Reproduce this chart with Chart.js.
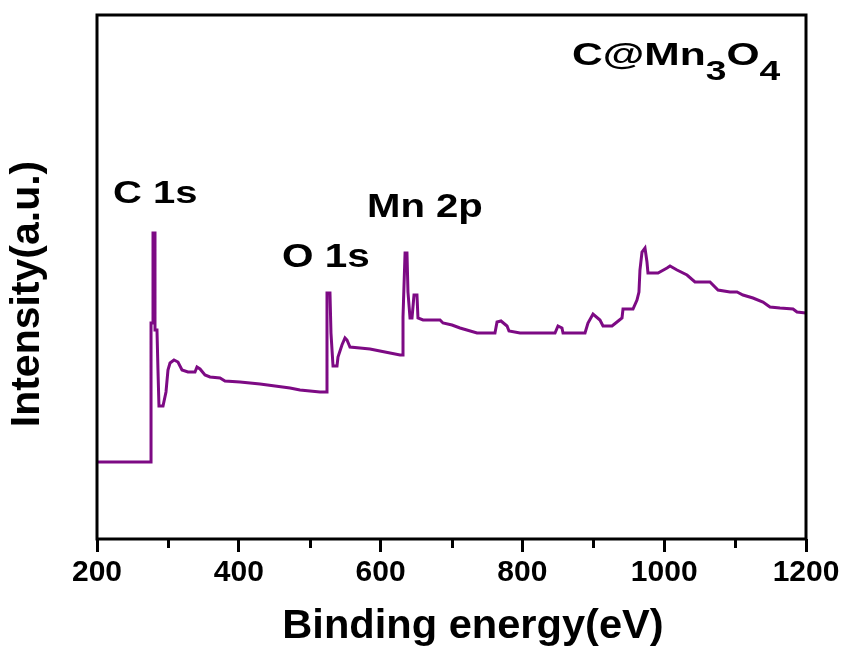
<!DOCTYPE html>
<html>
<head>
<meta charset="utf-8">
<script src="https://cdn.jsdelivr.net/npm/chart.js@4.4.1/dist/chart.umd.min.js"></script>
<style>
  html, body { margin: 0; padding: 0; background: #fff; }
  #wrap { width: 847px; height: 655px; }
</style>
</head>
<body>
<div id="wrap"><canvas id="xps"></canvas></div>
<script>
// XPS survey spectrum of C@Mn3O4: binding energy (eV) vs. intensity (a.u.)
const energy = [
  200, 276.2, 276.2, 279, 279, 281.8, 281.8, 284.6, 286, 287.4,
  293.1, 297.3, 300.1, 303, 308.6, 314.2, 319.9, 328.3, 338.2, 341,
  345.3, 352.3, 359.4, 373.5, 380.5, 401.7, 415.8, 429.9, 451.1, 472.2,
  486.3, 500.4, 514.5, 524.4, 524.4, 528.6, 530, 532.9, 538.5, 539.9,
  545.5, 549.8, 552.6, 556.8, 570.9, 585, 599.1, 613.3, 627.4, 631.6,
  631.6, 634.5, 637.2, 638.6, 641.5, 644.3, 647.1, 651.3, 652.7, 659.8,
  683.8, 688, 700.7, 712, 736, 761.3, 764.2, 769.8, 778.3, 781.1,
  796.6, 846, 850.2, 855.8, 857.3, 888.3, 892.5, 899.6, 909.4, 913.7,
  926.4, 933.4, 940.5, 941.9, 956, 961.6, 964.4, 965.8, 968.7, 972.9,
  975.7, 977.1, 991.3, 1004, 1008.2, 1018.1, 1032.2, 1043.4, 1064.6, 1075.9,
  1092.8, 1102.7, 1111.1, 1125.2, 1139.3, 1149.2, 1163.3, 1181.7, 1187.3, 1200
];
const intensity = [
  77, 77, 216, 216, 306, 306, 209, 209, 169, 133,
  133, 147, 169, 176, 179, 177, 169, 167, 167, 172,
  170, 164, 162, 161, 158, 157, 156, 155, 153, 151,
  149, 148, 147, 147, 246, 246, 206, 173, 173, 182,
  194, 201, 199, 192, 191, 190, 188, 186, 184, 184,
  222, 286, 286, 247, 221, 221, 244, 244, 221, 219,
  219, 216, 214, 211, 206, 206, 217, 218, 213, 208,
  206, 206, 213, 211, 206, 206, 216, 225, 219, 213,
  213, 217, 221, 230, 230, 239, 247, 269, 287, 291,
  277, 266, 266, 271, 273, 269, 264, 257, 257, 249,
  247, 247, 244, 241, 237, 232, 231, 230, 227, 226
];
const energyTicksMajor = [200, 400, 600, 800, 1000, 1200];
const energyTicksMinor = [300, 500, 700, 900, 1100];

// peak / sample labels, anchored at (eV, intensity) of their left baseline
const peakLabels = ['C 1s', 'O 1s', 'Mn 2p'];
const peakLabelEnergy = [222.6, 461.0, 580.8];
const peakLabelIntensity = [336, 272, 322];

const FONT = '"Liberation Sans", Arial, Helvetica, sans-serif';

const points = energy.map((e, i) => ({ x: e, y: intensity[i] }));

const decorations = {
  id: 'decorations',
  afterDraw(chart) {
    const { ctx, chartArea: a, scales: { x, y } } = chart;
    ctx.save();

    // minor ticks on the energy axis
    ctx.strokeStyle = '#000';
    ctx.lineWidth = 3;
    ctx.beginPath();
    energyTicksMinor.forEach(v => {
      const px = Math.round(x.getPixelForValue(v)) + 0.5;
      ctx.moveTo(px, a.bottom);
      ctx.lineTo(px, a.bottom + 9);
    });
    ctx.stroke();

    // frame around the plot
    ctx.lineWidth = 3;
    ctx.strokeRect(a.left, a.top, a.right - a.left, a.bottom - a.top);

    ctx.fillStyle = '#000';
    const stretched = (text, px, py, size, sx) => {
      ctx.save();
      ctx.translate(px, py);
      ctx.scale(sx, 1);
      ctx.font = `bold ${size}px ${FONT}`;
      ctx.textAlign = 'left';
      ctx.textBaseline = 'alphabetic';
      ctx.fillText(text, 0, 0);
      ctx.restore();
    };

    // peak assignments
    const sizes = [32, 34, 34];
    const sxs = [1.25, 1.19, 1.18];
    peakLabels.forEach((t, i) => {
      stretched(t, x.getPixelForValue(peakLabelEnergy[i]), y.getPixelForValue(peakLabelIntensity[i]), sizes[i], sxs[i]);
    });

    // sample name with subscripts
    let px = x.getPixelForValue(870.1);
    const py = y.getPixelForValue(474);
    const sx = 1.33;
    const parts = [
      { t: 'C@Mn', size: 32, dy: 0 },
      { t: '3', size: 28, dy: 15 },
      { t: 'O', size: 32, dy: 0 },
      { t: '4', size: 28, dy: 15 }
    ];
    parts.forEach(p => {
      stretched(p.t, px, py + p.dy, p.size, sx);
      ctx.font = `bold ${p.size}px ${FONT}`;
      px += ctx.measureText(p.t).width * sx;
    });

    // axis titles
    ctx.save();
    ctx.font = `bold 40px ${FONT}`;
    ctx.textAlign = 'center';
    ctx.textBaseline = 'middle';
    ctx.translate(473, 627);
    ctx.scale(1.04, 1);
    ctx.fillText('Binding energy(eV)', 0, 0);
    ctx.restore();

    ctx.save();
    ctx.font = `bold 41px ${FONT}`;
    ctx.textAlign = 'center';
    ctx.textBaseline = 'middle';
    ctx.translate(28, 294);
    ctx.rotate(-Math.PI / 2);
    ctx.fillText('Intensity(a.u.)', 0, 0);
    ctx.restore();

    ctx.restore();
  }
};

new Chart(document.getElementById('xps'), {
  type: 'line',
  data: {
    datasets: [{
      data: points,
      borderColor: '#7d0a84',
      borderWidth: 3,
      pointRadius: 0,
      tension: 0,
      fill: false,
      borderJoinStyle: 'miter'
    }]
  },
  options: {
    responsive: true,
    maintainAspectRatio: false,
    animation: false,
    devicePixelRatio: 1,
    layout: { padding: { left: 97, right: 41, top: 15, bottom: 0 } },
    plugins: { legend: { display: false }, tooltip: { enabled: false } },
    scales: {
      x: {
        type: 'linear',
        min: 200,
        max: 1200,
        afterBuildTicks: s => { s.ticks = energyTicksMajor.map(v => ({ value: v })); },
        afterFit: s => { s.height = 116; },
        border: { display: false },
        grid: {
          display: true,
          drawOnChartArea: false,
          drawTicks: true,
          tickLength: 13,
          color: '#000',
          lineWidth: 3
        },
        ticks: {
          autoSkip: false,
          maxRotation: 0,
          padding: 3,
          color: '#000',
          font: { family: FONT, size: 30, weight: 'bold' },
          callback: v => String(v)
        }
      },
      y: {
        display: false,
        min: 0,
        max: 524
      }
    }
  },
  plugins: [decorations]
});
</script>
</body>
</html>
